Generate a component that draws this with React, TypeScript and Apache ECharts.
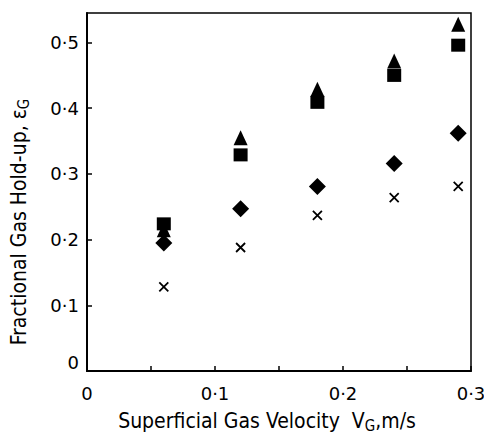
import React, { useEffect, useRef } from "react";
import * as echarts from "echarts";

const velocities = [0.06, 0.12, 0.18, 0.24, 0.29];
const triangleValues = [0.215, 0.355, 0.429, 0.472, 0.528];
const squareValues = [0.224, 0.329, 0.409, 0.45, 0.496];
const diamondValues = [0.195, 0.247, 0.281, 0.316, 0.362];
const crossValues = [0.128, 0.188, 0.237, 0.264, 0.281];

const pairs = (ys: number[]) => velocities.map((x, i) => [x, ys[i]]);
const fmt = (v: number) => (v === 0 ? "0" : v.toFixed(1).replace(".", "\u00b7"));

const FONT = "DejaVu Sans";
const TFONT = "'DejaVu Sans Condensed', 'DejaVu Sans'";

const richFor = (size: number) => ({
  m: { fontSize: size, fontFamily: TFONT, color: "#000", lineHeight: size + 2, verticalAlign: "top" },
  sub: {
    fontSize: Math.round(size * 0.72),
    fontFamily: TFONT,
    color: "#000",
    lineHeight: Math.round(size * 0.72) + 2,
    padding: [Math.round(size * 0.45), 0, 0, 0],
    verticalAlign: "bottom",
  },
});

export default function App() {
  const ref = useRef<HTMLDivElement>(null);
  useEffect(() => {
    if (!ref.current) return;
    const chart = echarts.init(ref.current, undefined, { renderer: "svg" });
    const black = "#000";
    chart.setOption({
      animation: false,
      backgroundColor: "#fff",
      grid: {
        left: 87,
        right: 13,
        top: 13,
        bottom: 63,
        containLabel: false,
        outerBoundsMode: "none",
        show: true,
        borderColor: black,
        borderWidth: 1.5,
        backgroundColor: "transparent",
      },
      xAxis: {
        type: "value",
        min: 0,
        max: 0.3,
        interval: 0.1,
        axisLine: { show: true, lineStyle: { color: black, width: 2 } },
        axisTick: { show: true, inside: true, length: 5, lineStyle: { color: black, width: 1.5 } },
        minorTick: { show: true, splitNumber: 2, length: 5, lineStyle: { color: black, width: 1.5 } },
        splitLine: { show: false },
        axisLabel: {
          color: black,
          fontFamily: FONT,
          fontSize: 18,
          margin: 13,
          formatter: (v: number) => fmt(v),
        },
        name: "{m|Superficial Gas Velocity  V}{sub|G}{m|,m/s}",
        nameLocation: "middle",
        nameGap: 39,
        nameTextStyle: {
          color: black,
          fontFamily: TFONT,
          fontSize: 21,
          padding: [0, 24, 0, 0],
          rich: richFor(21),
        },
      },
      yAxis: {
        type: "value",
        min: 0,
        max: 0.545,
        interval: 0.1,
        axisLine: { show: true, lineStyle: { color: black, width: 2 } },
        axisTick: { show: true, inside: true, length: 5, lineStyle: { color: black, width: 1.5 } },
        splitLine: { show: false },
        axisLabel: {
          color: black,
          fontFamily: FONT,
          fontSize: 18,
          margin: 8,
          showMaxLabel: false,
          verticalAlignMinLabel: "bottom",
          formatter: (v: number) => (Math.abs(v * 10 - Math.round(v * 10)) < 1e-6 ? fmt(v) : ""),
        },
        name: "{m|Fractional Gas Hold-up, \u03b5}{sub|G}",
        nameLocation: "middle",
        nameGap: 56,
        nameRotate: 90,
        nameTextStyle: {
          color: black,
          fontFamily: TFONT,
          fontSize: 21,
          padding: [0, 60, 0, 0],
          rich: richFor(21),
        },
      },
      series: [
        {
          type: "scatter",
          name: "triangle",
          data: pairs(triangleValues),
          symbol: "triangle",
          symbolSize: [14, 15],
          itemStyle: { color: black, opacity: 1 },
        },
        {
          type: "scatter",
          name: "square",
          data: pairs(squareValues),
          symbol: "rect",
          symbolSize: [14, 13],
          itemStyle: { color: black, opacity: 1 },
        },
        {
          type: "scatter",
          name: "diamond",
          data: pairs(diamondValues),
          symbol: "diamond",
          symbolSize: [17, 17],
          itemStyle: { color: black, opacity: 1 },
        },
        {
          type: "scatter",
          name: "cross",
          data: pairs(crossValues),
          symbol: "path://M0,0L10,10M10,0L0,10",
          symbolSize: [9, 9],
          itemStyle: { color: "none", borderColor: black, borderWidth: 1.8, opacity: 1 },
        },
      ],
    });
    return () => chart.dispose();
  }, []);
  return (
    <div
      ref={ref}
      style={{ position: "absolute", left: 0, top: 0, width: 484, height: 434 }}
    />
  );
}
